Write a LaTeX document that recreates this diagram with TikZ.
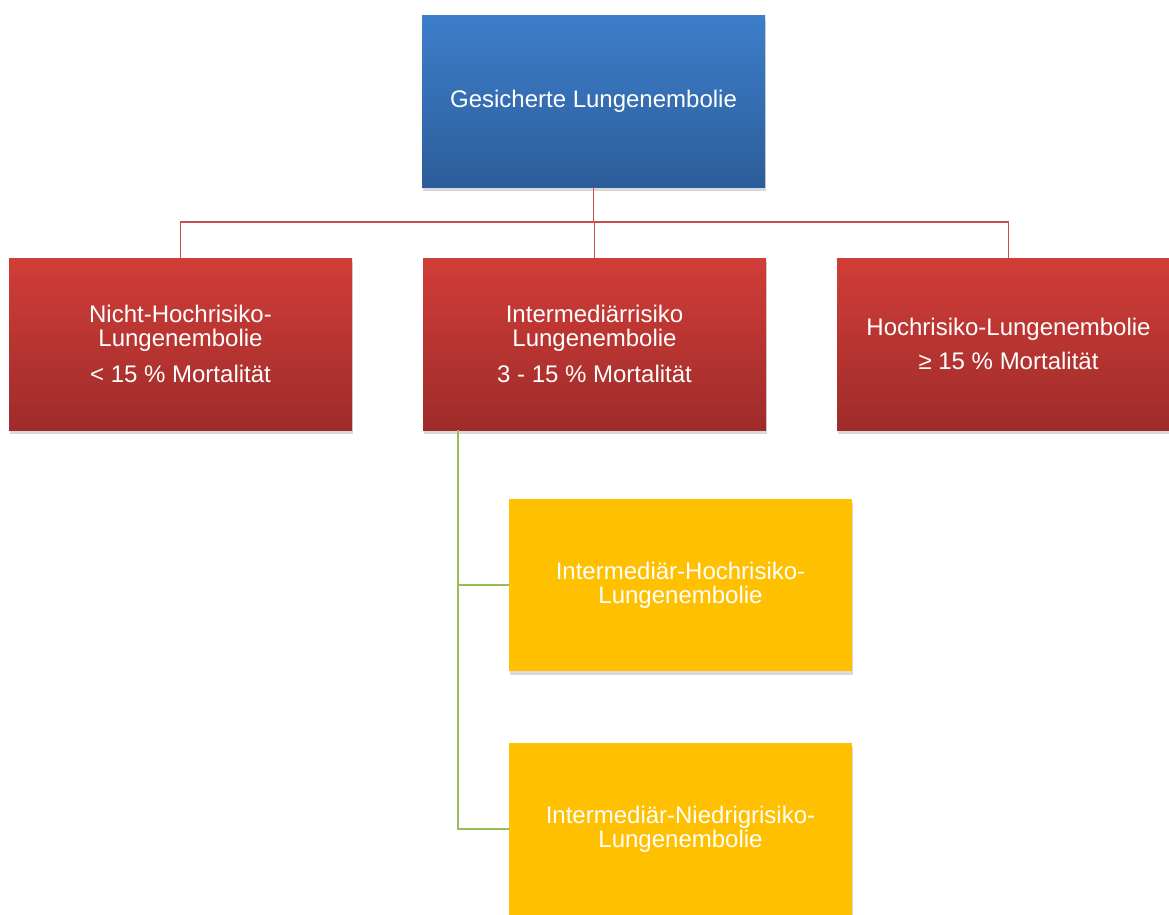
\documentclass[tikz,border=0pt]{standalone}
\usepackage{fontspec}
\setmainfont{Liberation Sans}
\usetikzlibrary{shadows}
\definecolor{bluetop}{RGB}{61,126,202}
\definecolor{bluebot}{RGB}{44,93,154}
\definecolor{redtop}{RGB}{209,61,56}
\definecolor{redbot}{RGB}{158,44,42}
\definecolor{yel}{RGB}{255,192,0}
\definecolor{redline}{RGB}{200,78,78}
\definecolor{greenline}{RGB}{155,187,89}
\tikzset{
  box/.style={rectangle, minimum width=257.25pt, minimum height=129pt, inner sep=0pt,
    text=white, align=center, font=\fontsize{18}{18}\selectfont,
    drop shadow={shadow xshift=1pt, shadow yshift=-3pt, opacity=0.3}},
  bluebox/.style={box, top color=bluetop, bottom color=bluebot},
  redbox/.style={box, top color=redtop, bottom color=redbot},
  yelbox/.style={box, fill=yel},
  redconn/.style={draw=redline, line width=1.3pt},
  greenconn/.style={draw=greenline, line width=1.4pt}
}
\begin{document}
\begin{tikzpicture}[x=0.75pt,y=-0.75pt]
\useasboundingbox (0,0) rectangle (1169,914);
\clip (0,0) rectangle (1169,914);
\node[bluebox] (top) at (593.5,101) {Gesicherte Lungenembolie};
\node[redbox] (left) at (180.5,344) {Nicht-Hochrisiko-\\Lungenembolie\\[9pt]{<} 15 \% Mortalität};
\node[redbox] (mid) at (594.5,344) {Intermediärrisiko\\Lungenembolie\\[9pt]3 - 15 \% Mortalität};
\node[redbox] (right) at (1008.5,344) {Hochrisiko-Lungenembolie\\[8pt]≥ 15 \% Mortalität};
\node[yelbox] (y1) at (680.5,585) {Intermediär-Hochrisiko-\\Lungenembolie};
\node[yelbox] (y2) at (680.5,829) {Intermediär-Niedrigrisiko-\\Lungenembolie};
\coordinate (hub) at (593.5,222);
\coordinate (g0) at (458,430);
\draw[redconn] (top.south) -- (hub);
\draw[redconn] (hub) -| (left.north);
\draw[redconn] (hub) -| (right.north);
\draw[redconn] (hub) -| (mid.north);
\draw[greenconn] (g0) |- (y1.west);
\draw[greenconn] (g0) |- (y2.west);
\end{tikzpicture}
\end{document}
